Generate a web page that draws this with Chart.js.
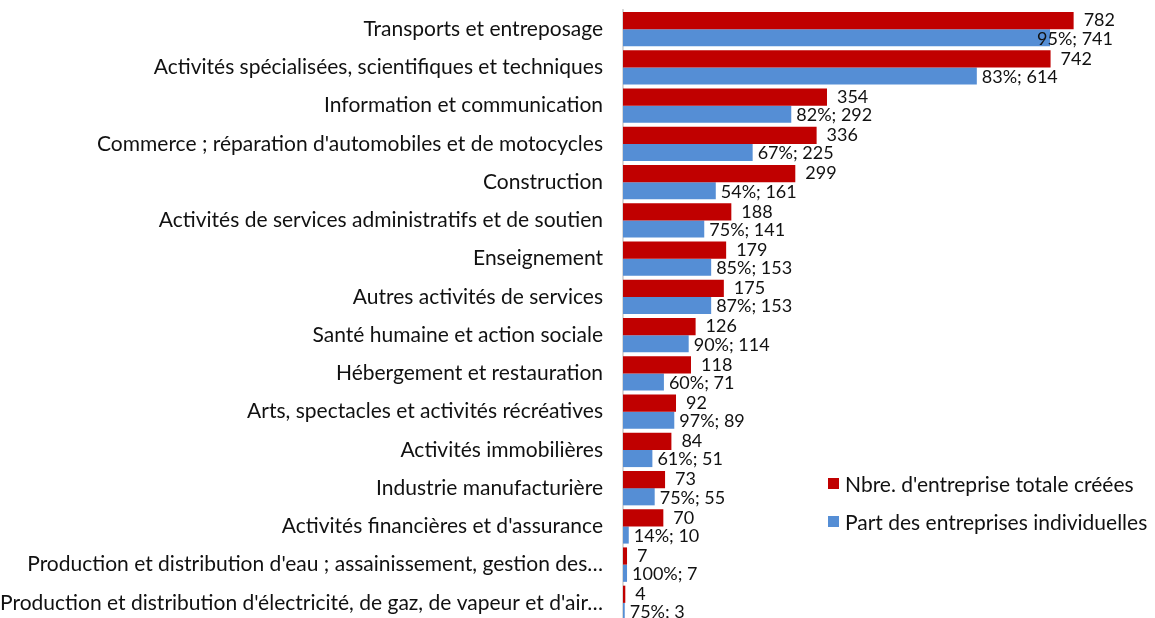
<!DOCTYPE html>
<html>
<head>
<meta charset="utf-8">
<script src="https://cdn.jsdelivr.net/npm/chart.js@4.4.1/dist/chart.umd.min.js"></script>
<style>
    html, body { margin: 0; padding: 0; background: #fff; overflow: hidden; }
    .wrap { position: relative; width: 1155px; height: 618px; overflow: hidden; font-family: Lato, sans-serif; }
    canvas { display: block; }
    .legend { position: absolute; left: 828px; top: 464px; font-size: 21px; color: #111; }
    .legend-item { display: flex; align-items: center; height: 38px; }
    .legend-box { width: 11px; height: 11px; margin-right: 6px; }
</style>
</head>
<body>
<div class="wrap">
    <canvas id="chart" width="1155" height="622"></canvas>
    <div class="legend">
        <div class="legend-item"><span class="legend-box" style="background:#C00000"></span>Nbre. d'entreprise totale créées</div>
        <div class="legend-item"><span class="legend-box" style="background:#558ED5"></span>Part des entreprises individuelles</div>
    </div>
</div>
<script>
// Secteurs d'activité
const categories = [
    'Transports et entreposage',
    'Activités spécialisées, scientifiques et techniques',
    'Information et communication',
    "Commerce ; réparation d'automobiles et de motocycles",
    'Construction',
    'Activités de services administratifs et de soutien',
    'Enseignement',
    'Autres activités de services',
    'Santé humaine et action sociale',
    'Hébergement et restauration',
    'Arts, spectacles et activités récréatives',
    'Activités immobilières',
    'Industrie manufacturière',
    "Activités financières et d'assurance",
    "Production et distribution d'eau ; assainissement, gestion des…",
    "Production et distribution d'électricité, de gaz, de vapeur et d'air…"
];

const totalCreated = [782, 742, 354, 336, 299, 188, 179, 175, 126, 118, 92, 84, 73, 70, 7, 4];
const individualCount = [741, 614, 292, 225, 161, 141, 153, 153, 114, 71, 89, 51, 55, 10, 7, 3];
const individualShare = [95, 83, 82, 67, 54, 75, 85, 87, 90, 60, 97, 61, 75, 14, 100, 75];

const RED = '#C00000';
const BLUE = '#558ED5';

// Data labels next to the bar ends
const barLabels = {
    id: 'barLabels',
    afterDatasetsDraw(chart) {
        const ctx = chart.ctx;
        ctx.save();
        ctx.font = '18px Lato, sans-serif';
        ctx.fillStyle = '#111';
        ctx.textBaseline = 'middle';
        ctx.textAlign = 'left';
        chart.getDatasetMeta(0).data.forEach((bar, i) => {
            ctx.fillText(String(totalCreated[i]), bar.x + 10, bar.y);
        });
        chart.getDatasetMeta(1).data.forEach((bar, i) => {
            const text = `${individualShare[i]}%; ${individualCount[i]}`;
            const w = ctx.measureText(text).width;
            const x = Math.min(bar.x + 5, 1113 - w);
            ctx.fillText(text, x, bar.y + 1);
        });
        ctx.restore();
    }
};

new Chart(document.getElementById('chart'), {
    type: 'bar',
    data: {
        labels: categories,
        datasets: [
            {
                label: "Nbre. d'entreprise totale créées",
                data: totalCreated,
                backgroundColor: RED,
                barPercentage: 1,
                categoryPercentage: 0.9
            },
            {
                label: 'Part des entreprises individuelles',
                data: individualCount,
                backgroundColor: BLUE,
                barPercentage: 1,
                categoryPercentage: 0.9
            }
        ]
    },
    options: {
        indexAxis: 'y',
        responsive: false,
        animation: false,
        layout: { padding: { top: 10, right: 71, bottom: 0, left: 0 } },
        plugins: {
            legend: { display: false },
            tooltip: { enabled: false }
        },
        scales: {
            x: {
                display: false,
                min: 0,
                max: 800
            },
            y: {
                grid: { display: false, drawTicks: false },
                border: { color: '#d9d9d9', width: 2 },
                ticks: {
                    color: '#111',
                    font: { family: 'Lato', size: 21 },
                    padding: 20,
                    autoSkip: false
                },
                afterFit(scale) {
                    scale.width = 623;
                    scale.paddingTop = 0;
                    scale.paddingBottom = 0;
                }
            }
        }
    },
    plugins: [barLabels]
});
</script>
</body>
</html>
